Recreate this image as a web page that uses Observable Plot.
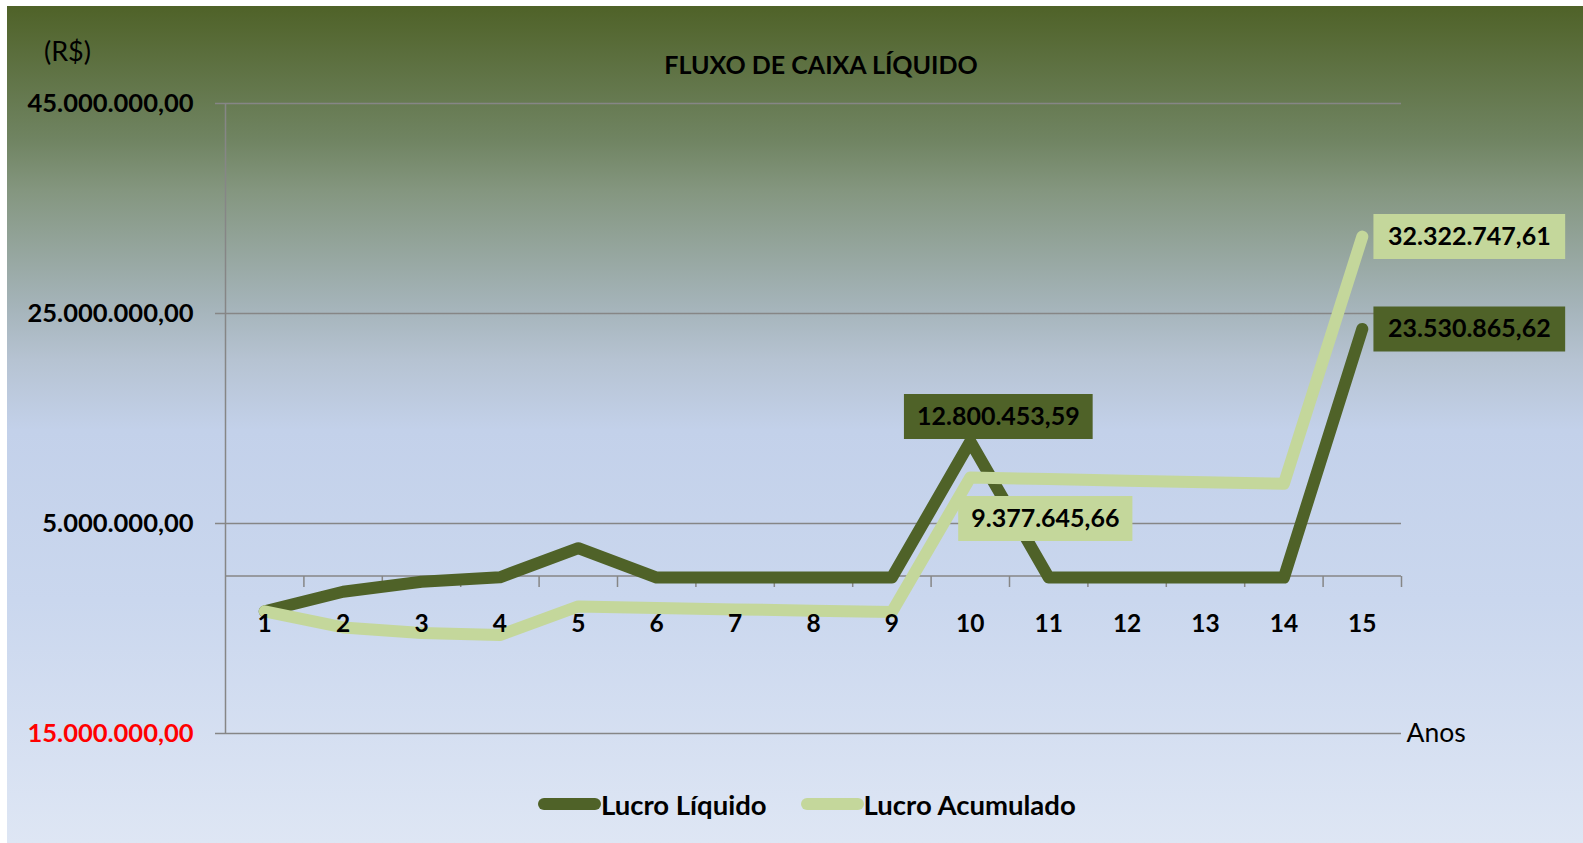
<!DOCTYPE html>
<html>
<head>
<meta charset="utf-8">
<script src="https://cdn.jsdelivr.net/npm/d3@7"></script>
<script src="https://cdn.jsdelivr.net/npm/@observablehq/plot@0.6"></script>
<style>
  html, body { margin: 0; padding: 0; }
  body { width: 1583px; height: 843px; overflow: hidden; background: #ffffff; position: relative; font-family: Lato, "Open Sans", sans-serif; }
  #bg { position: absolute; left: 7px; top: 6px; width: 1576px; height: 837px;
        background: linear-gradient(to bottom, #4F6228 0%, #708462 16%, #84967F 22%, #A5B4BA 36%, #B6C3D2 42.3%, #C3D1EA 50.7%, #CAD7EE 71%, #DEE6F4 100%); }
  #chart { position: absolute; left: 0; top: 0; }
  #title { position: absolute; left: 821px; top: 49px; transform: translateX(-50%); font-weight: bold; font-size: 25px; line-height: 30px; color: #000; white-space: nowrap; }
  #unit { position: absolute; left: 44px; top: 36px; font-size: 27px; line-height: 30px; color: #000; }
  #legend { position: absolute; left: 538px; top: 788px; height: 32px; display: flex; align-items: center; font-weight: bold; font-size: 27.5px; color: #000; white-space: nowrap; }
  #legend .sw { display: inline-block; width: 63px; height: 12px; border-radius: 6px; }
</style>
</head>
<body>
<div id="bg"></div>
<div id="chart"></div>
<div id="title">FLUXO DE CAIXA LÍQUIDO</div>
<div id="unit">(R$)</div>
<div id="legend"></div>
<script>
// ---- data ----
const anos = [1, 2, 3, 4, 5, 6, 7, 8, 9, 10, 11, 12, 13, 14, 15];
const lucroLiquido = [-3360000, -1500000, -550000, -120000, 2650000, -150000, -150000, -150000, -150000, 12800453.59, -150000, -150000, -150000, -150000, 23530865.62];
const lucroAcumulado = [-3360000, -4900000, -5430000, -5620000, -2900000, -3050000, -3180000, -3300000, -3420000, 9377645.66, 9230000, 9080000, 8930000, 8790000, 32322747.61];
const yTicks = [-15000000, 5000000, 25000000, 45000000];
const seriesNames = ["Lucro Líquido", "Lucro Acumulado"];
const seriesColors = ["#4F6228", "#C4D79B"];
const xTitle = "Anos";

// ---- helpers ----
function fmtBR(v) {
  const [i, f] = Math.abs(v).toFixed(2).split(".");
  return i.replace(/\B(?=(\d{3})+(?!\d))/g, ".") + "," + f;
}
const gridColor = "#868686";
const xDomain = [0.5, 15.5];
const tickBounds = anos.map(a => a + 0.5);

const liq = anos.map((a, i) => ({ano: a, valor: lucroLiquido[i]}));
const acc = anos.map((a, i) => ({ano: a, valor: lucroAcumulado[i]}));

const vTick = { draw(ctx) { ctx.moveTo(0, 0); ctx.lineTo(0, 11); } };

const labelFont = 25;
const canvas = document.createElement("canvas");
const cctx = canvas.getContext("2d");
cctx.font = `bold ${labelFont}px Lato`;
function boxSymbol(text, pad) {
  const w = cctx.measureText(text).width + pad;
  const h = 45;
  return { draw(ctx) { ctx.rect(-w / 2, -h / 2, w, h); } };
}

function label(data, ano, color, dx, dy, pad) {
  const d = data.filter(p => p.ano === ano);
  const t = fmtBR(d[0].valor);
  return [
    Plot.dot(d, {x: "ano", y: "valor", dx, dy, symbol: boxSymbol(t, pad), fill: color, stroke: null, r: 10}),
    Plot.text(d, {x: "ano", y: "valor", dx, dy, text: p => fmtBR(p.valor), fill: "#000", fontWeight: "bold", fontSize: labelFont, fontFamily: "Lato", lineAnchor: "middle"})
  ];
}

const chart = Plot.plot({
  width: 1583,
  height: 843,
  marginLeft: 225,
  marginRight: 182,
  marginTop: 103,
  marginBottom: 110,
  style: {background: "transparent", overflow: "visible", fontFamily: "Lato"},
  x: {type: "linear", domain: xDomain, axis: null},
  y: {domain: [yTicks[0], yTicks[yTicks.length - 1]], axis: null},
  marks: [
    Plot.ruleY(yTicks, {stroke: gridColor, strokeWidth: 1.5}),
    Plot.axisY({ticks: yTicks, tickSize: 10, tickFormat: () => "", stroke: gridColor, strokeWidth: 1.5, label: null}),
    Plot.ruleX([xDomain[0]], {stroke: gridColor, strokeWidth: 1.5}),
    Plot.ruleY([0], {stroke: gridColor, strokeWidth: 1.5}),
    Plot.dot(tickBounds, {x: d => d, y: () => 0, symbol: vTick, stroke: gridColor, strokeWidth: 1.5, fill: "none"}),
    Plot.text(yTicks, {y: d => d, frameAnchor: "left", dx: -32, textAnchor: "end", lineAnchor: "middle", text: d => fmtBR(d), fill: d => d < 0 ? "#FF0000" : "#000000", fontWeight: "bold", fontSize: 25.5}),
    Plot.text([xTitle], {frameAnchor: "bottom-right", dx: 5, textAnchor: "start", lineAnchor: "middle", text: d => d, fontSize: 26.5, fill: "#000"}),
    Plot.line(liq, {x: "ano", y: "valor", stroke: seriesColors[0], strokeWidth: 12, strokeLinecap: "round", strokeLinejoin: "round"}),
    Plot.line(acc, {x: "ano", y: "valor", stroke: seriesColors[1], strokeWidth: 12, strokeLinecap: "round", strokeLinejoin: "round"}),
    Plot.text(anos, {x: d => d, y: () => 0, dy: 48, text: d => String(d), fontWeight: "bold", fontSize: 24.5, fill: "#000", lineAnchor: "middle"}),
    ...label(liq, 10, seriesColors[0], 28, -25, 26),
    ...label(acc, 10, seriesColors[1], 75, 41, 26),
    ...label(acc, 15, seriesColors[1], 107, 0, 29),
    ...label(liq, 15, seriesColors[0], 107, 0, 29)
  ]
});
document.getElementById("chart").append(chart);

// legend
const leg = document.getElementById("legend");
seriesNames.forEach((n, i) => {
  const sw = document.createElement("span");
  sw.className = "sw";
  sw.style.background = seriesColors[i];
  if (i > 0) sw.style.marginLeft = "34px";
  const tx = document.createElement("span");
  tx.textContent = n;
  leg.append(sw, tx);
});
</script>
</body>
</html>
